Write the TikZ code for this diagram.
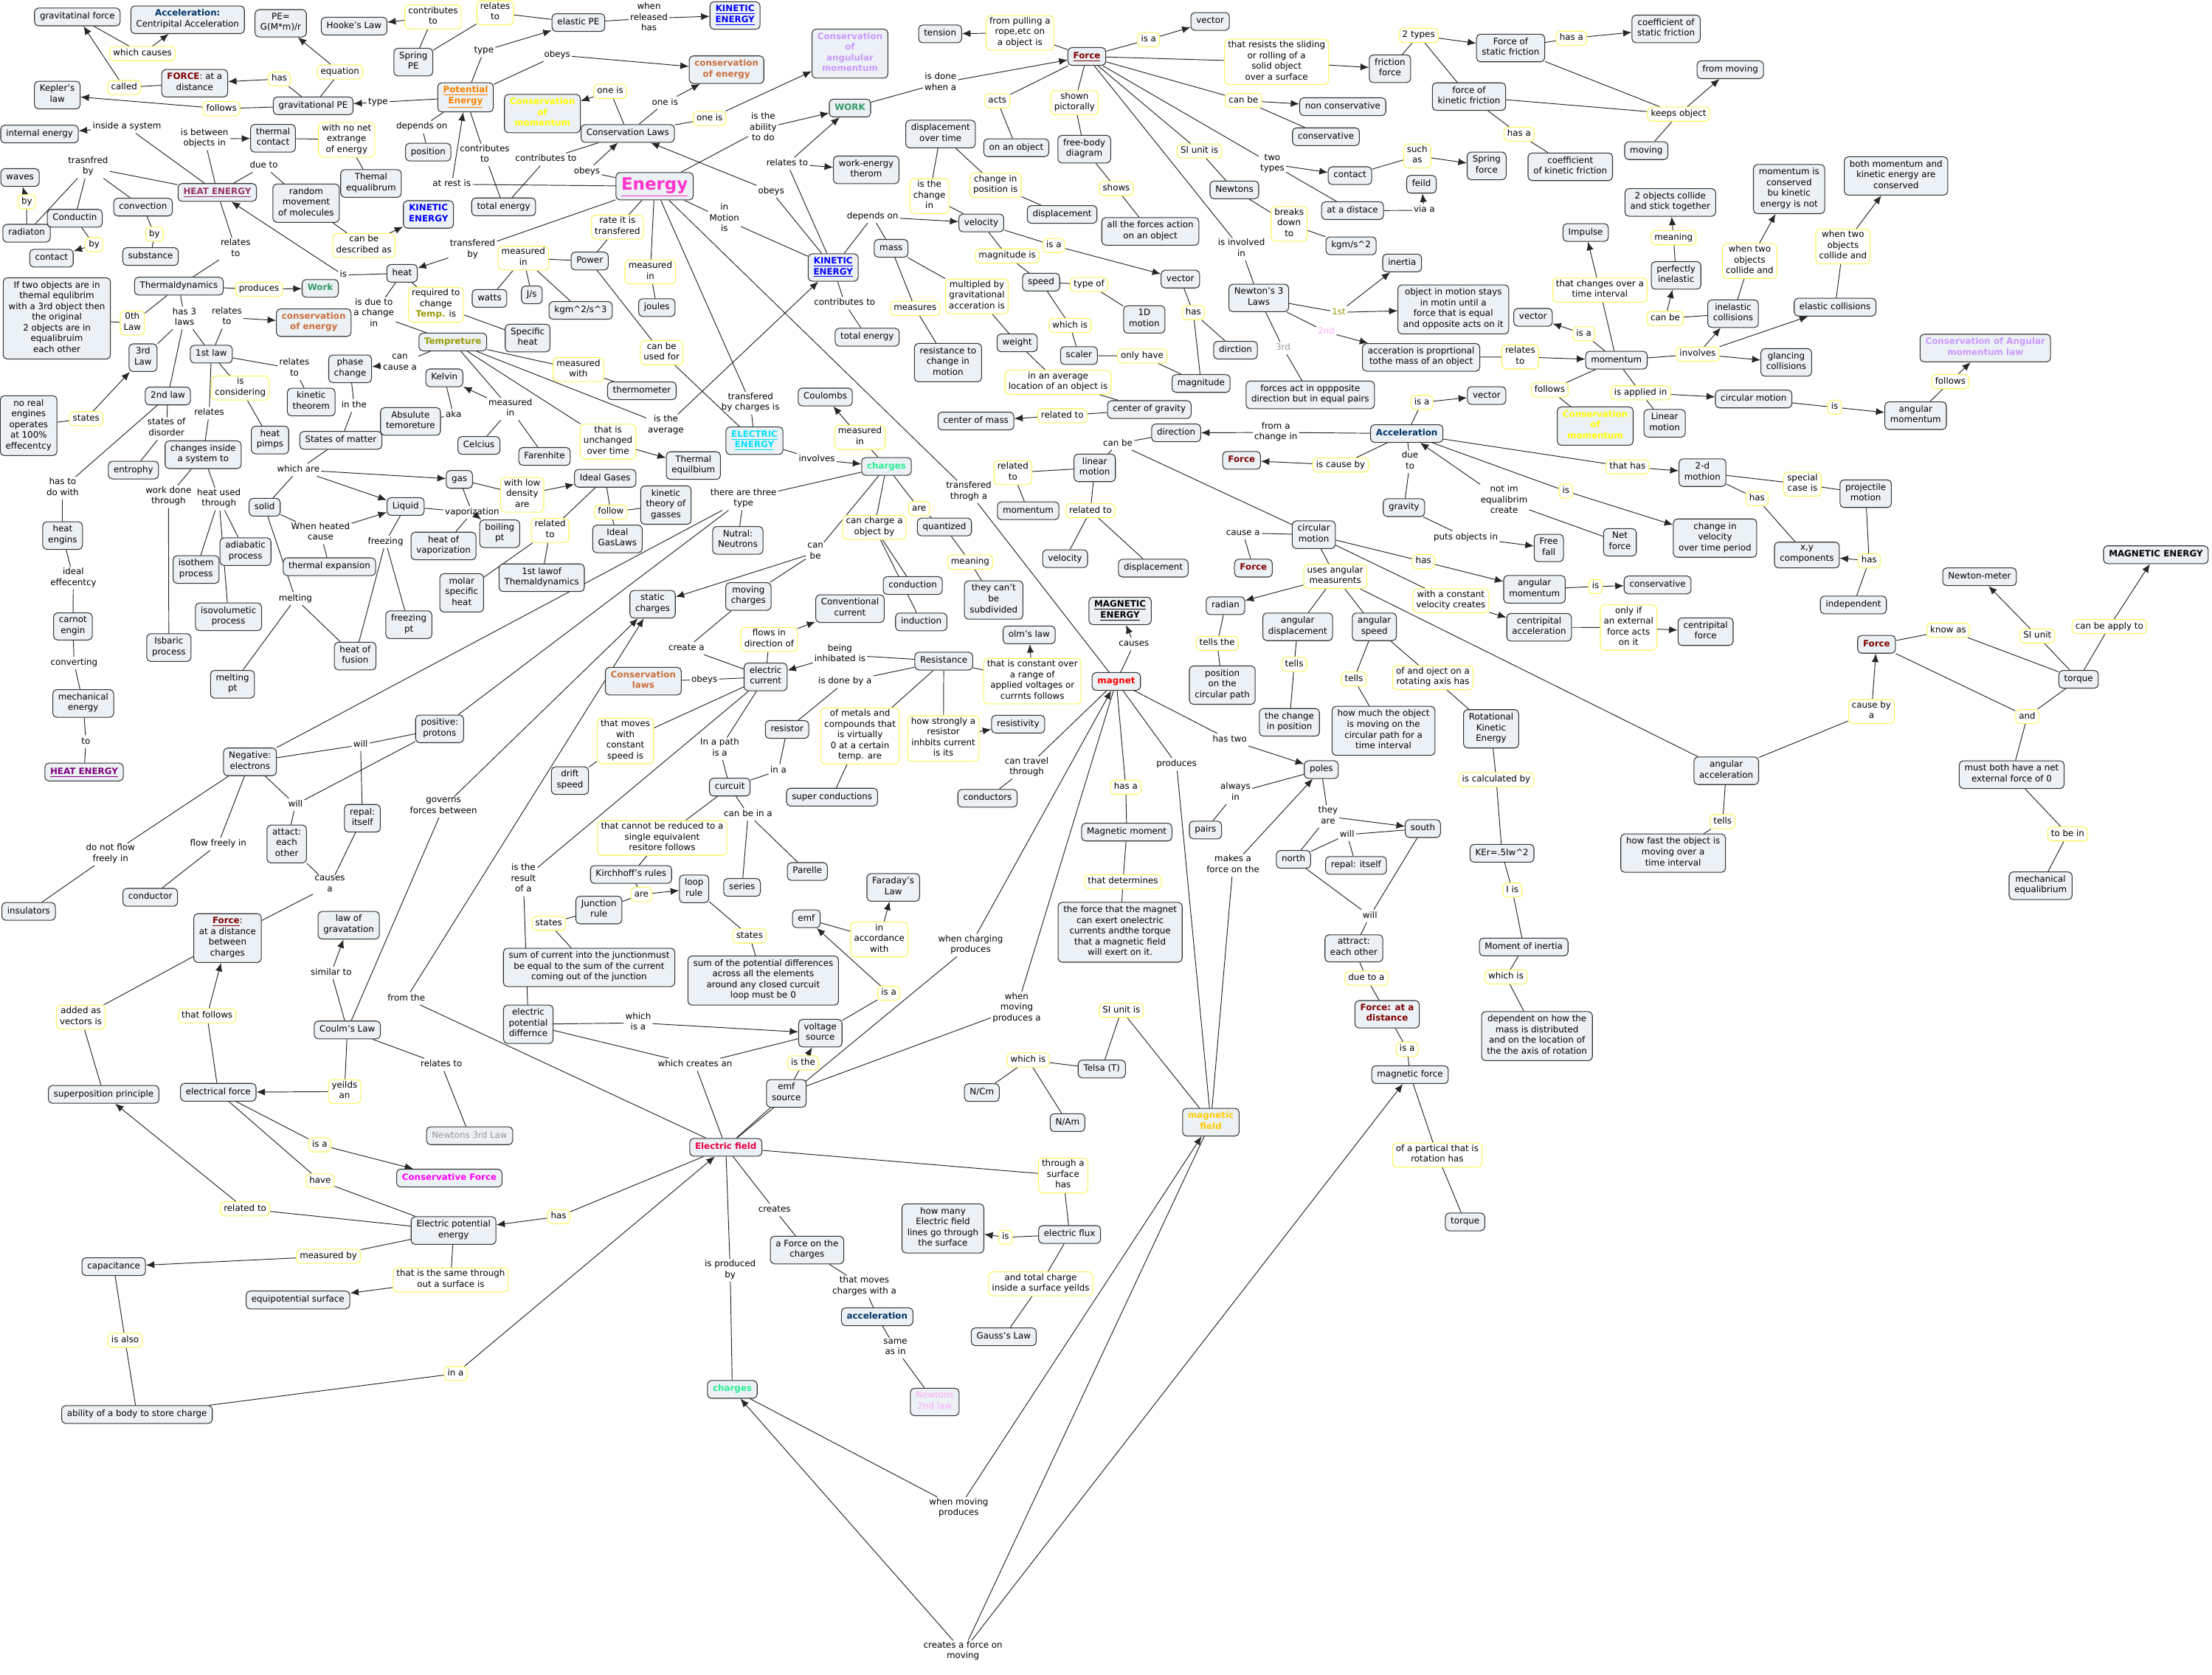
\documentclass[tikz,border=0pt]{standalone}
\usepackage{fontspec}
\setmainfont{DejaVu Sans}
\usetikzlibrary{arrows.meta}
\pgfdeclarelayer{background}
\pgfsetlayers{background,main}
\definecolor{cfill}{RGB}{235,241,244}
\definecolor{lyel}{RGB}{250,246,90}
\definecolor{dred}{RGB}{128,0,0}
\definecolor{hpurp}{RGB}{153,51,102}
\definecolor{purp}{RGB}{128,0,128}
\definecolor{kblue}{RGB}{0,0,255}
\definecolor{emag}{RGB}{255,51,204}
\definecolor{orng}{RGB}{255,128,0}
\definecolor{orng2}{RGB}{204,110,60}
\definecolor{cyel}{RGB}{255,255,0}
\definecolor{lpurp}{RGB}{204,153,255}
\definecolor{wgreen}{RGB}{51,153,102}
\definecolor{ecyan}{RGB}{0,225,255}
\definecolor{cgreen}{RGB}{40,240,150}
\definecolor{olv}{RGB}{153,153,0}
\definecolor{nvy}{RGB}{0,51,102}
\definecolor{mred}{RGB}{255,0,0}
\definecolor{gld}{RGB}{255,204,0}
\definecolor{crim}{RGB}{235,0,70}
\definecolor{mgnt}{RGB}{255,0,255}
\definecolor{gry}{RGB}{150,150,150}
\definecolor{pnk}{RGB}{255,170,255}
\tikzset{
 cbase/.style={font=\fontsize{6.2}{7.6}\selectfont, align=center, execute at begin node=\strut, execute at end node=\strut},
 cpt/.style={cbase, draw=black!80, fill=cfill, rounded corners=2.8pt, inner xsep=3.8pt, inner ysep=2.5pt, line width=0.55pt},
 lnk/.style={cbase, draw=lyel, fill=white, rounded corners=2.8pt, inner xsep=2.4pt, inner ysep=1.2pt, line width=0.55pt},
 txt/.style={cbase, inner xsep=1pt, inner ysep=0.5pt},
 bf/.style={font=\fontsize{6.2}{7.6}\selectfont\bfseries},
 ln/.style={line width=0.5pt, black!85},
 ar/.style={ln, -{Latex[length=6pt,width=5pt]}},
}
\begin{document}
\begin{tikzpicture}[x=1pt,y=-1pt]
\useasboundingbox (0,0) rectangle (1568,1187);
% ---------- top left ----------
\node[cpt] (gravF) at (54.8,12) {gravitatinal force};
\node[cpt] (accC) at (133,14) {\textcolor{nvy}{\textbf{Acceleration:}}\\Centripital Acceleration};
\node[cpt] (peEq) at (199,16.5) {PE=\\G(M*m)/r};
\node[cpt] (hooke) at (251,18.5) {Hooke's Law};
\node[lnk] (contrib1) at (307,12) {contributes\\to};
\node[lnk] (relto1) at (351,9) {relates\\to};
\node[cpt] (elasticPE) at (410,16) {elastic PE};
\node[txt] (whenRel) at (460,13) {when\\released\\has};
\node[cpt,bf,text=kblue] (KE1) at (521,11) {\underline{KINETIC}\\\underline{ENERGY}};
\node[lnk] (whichCauses) at (101,38) {which causes};
\node[lnk] (called) at (88,62) {called};
\node[cpt] (forceDist) at (138,59) {\textcolor{dred}{\textbf{FORCE}}: at a\\distance};
\node[lnk] (has1) at (198,56) {has};
\node[lnk] (equation) at (241,51) {equation};
\node[cpt] (springPE) at (293,44) {Spring\\PE};
\node[txt] (type1) at (343,36) {type};
\node[txt] (obeys1) at (395,39) {obeys};
\node[cpt] (keplers) at (40.6,67.4) {Kepler's\\law};
\node[lnk] (follows1) at (157,77) {follows};
\node[cpt] (gravPE) at (222,75) {gravitational PE};
\node[txt] (type2) at (268,72.5) {type};
\node[cpt,bf,text=orng] (potE) at (330,69) {\underline{Potential}\\\underline{Energy}};
\node[cpt,bf,text=cyel] (consMom1) at (384.5,80.5) {Conservation\\of\\momentum};
\node[cpt,bf,text=orng2] (conservE1) at (515,49.4) {conservation\\of energy};
\node[cpt,bf,text=lpurp] (consAngMom) at (602.5,38) {Conservation\\of\\angulular\\momentum};
\node[lnk] (oneIs1) at (432.6,64.7) {one is};
\node[txt] (oneIs2) at (471.4,72.8) {one is};
\node[lnk] (oneIs3) at (503,84) {one is};
\node[cpt] (consLaws) at (445,94.6) {Conservation Laws};
\node[txt] (isAbility) at (541,91) {is the\\ability\\to do};
\node[cpt,bf,text=wgreen] (work) at (602.5,76.6) {WORK};
\node[txt] (isDoneWhen) at (666.7,58.8) {is done\\when a};
\node[cpt] (tension) at (666.4,24) {tension};
\node[lnk] (fromPulling) at (723,23.3) {from pulling a\\rope,etc on\\a object is};
\node[cpt,bf,text=dred] (force1) at (770.4,40) {\underline{Force}};
\node[lnk] (isA1) at (814.2,28.1) {is a};
\node[cpt] (vector1) at (857.8,15.2) {vector};
\node[lnk] (resists) at (904.9,43.9) {that resists the sliding\\or rolling of a\\solid object\\over a surface};
\node[cpt] (friction) at (985.3,48.7) {friction\\force};
\node[lnk] (twoTypes) at (1005.6,25.1) {2 types};
\node[cpt] (staticF) at (1070.8,34) {Force of\\static friction};
\node[lnk] (hasA1) at (1113.9,27.1) {has a};
\node[cpt] (coefStatic) at (1181,20.5) {coefficient of\\static friction};
\node[cpt] (fromMoving) at (1226.5,49.4) {from moving};
\node[lnk] (keepsObj) at (1189.9,80.9) {keeps object};
\node[cpt] (moving) at (1167,106.8) {moving};
\node[cpt] (kineticF) at (1041.3,68.5) {force of\\kinetic friction};
\node[lnk] (canBe1) at (881.4,71.2) {can be};
\node[cpt] (nonCons) at (951.8,75.6) {non conservative};
\node[cpt] (conservative1) at (939.9,96.9) {conservative};
\node[lnk] (hasA2) at (1076.8,95.1) {has a};
\node[cpt] (coefKin) at (1113.1,118.2) {coefficient\\of kinetic friction};
\node[lnk] (acts) at (707,71.5) {acts};
\node[cpt] (onObject) at (720.4,104.7) {on an object};
\node[lnk] (shownPic) at (761.7,72.8) {shown\\pictorally};
\node[cpt] (fbd) at (768.6,105.7) {free-body\\diagram};
\node[cpt] (displOT) at (666.7,95) {displacement\\over time};
\node[cpt] (workEnergy) at (614,120.4) {work-energy\\therom};
\node[txt] (relatesTo1) at (558,116) {relates to};
\node[txt] (obeys2) at (546.7,135.6) {obeys};
\node[cpt] (internalE) at (28,95) {internal energy};
\node[txt] (insideSys) at (90,90) {inside a system};
\node[txt] (isBetween) at (145,98.4) {is between\\objects in};
\node[cpt] (thermalContact) at (193.5,98) {thermal\\contact};
\node[lnk] (noNet) at (245.7,99) {with no net\\extrange\\of energy};
\node[txt] (dependsOn1) at (299,90) {depends on};
\node[cpt] (position1) at (303.5,107.8) {position};
\node[txt] (contributesTo2) at (343.6,109.8) {contributes\\to};
\node[txt] (contributesTo3) at (387,113) {contributes to};
\node[txt] (obeys3) at (416,121.5) {obeys};
\node[txt] (atRestIs) at (320.2,130.6) {at rest is};
\node[cpt] (totalE1) at (357,146.6) {total energy};
\node[cpt,font=\fontsize{12}{14}\selectfont\bfseries,text=emag] (energy) at (464,132) {\underline{Energy}};
\node[cpt,bf,text=hpurp] (heatEnergy) at (154,136.4) {\underline{HEAT ENERGY}};
\node[txt] (trasnfredBy) at (62.4,118.4) {trasnfred\\by};
\node[cpt] (waves) at (14.2,125.8) {waves};
\node[lnk] (by1) at (19,143) {by};
\node[cpt] (radiaton) at (18.8,165.3) {radiaton};
\node[cpt] (conductin) at (53,154.7) {Conductin};
\node[cpt] (convection) at (101.4,146.8) {convection};
\node[lnk] (by2) at (109.5,166) {by};
\node[cpt] (substance) at (106.7,181.8) {substance};
\node[lnk] (by3) at (66.7,173.4) {by};
\node[cpt] (contact1) at (36.5,183) {contact};
\node[txt] (dueTo) at (187,117.6) {due to};
\node[cpt] (randomMov) at (217,144) {random\\movement\\of molecules};
\node[cpt] (thermalEq) at (263,130) {Themal\\equalibrum};
\node[cpt,bf,text=kblue] (KE2) at (303.7,152) {KINETIC\\ENERGY};
\node[lnk] (canBeDesc) at (258,174) {can be\\described as};
\node[txt] (transferedBy) at (335,177) {transfered\\by};
\node[lnk] (measuredIn1) at (371,183) {measured\\in};
\node[lnk] (rateIs) at (437.7,161) {rate it is\\transfered};
\node[cpt] (power) at (418,185) {Power};
\node[cpt] (watts) at (347,211.5) {watts};
\node[cpt] (js) at (377,209) {J/s};
\node[cpt] (kgm3) at (411.6,220) {kgm\textasciicircum 2/s\textasciicircum 3};
\node[lnk] (measuredIn2) at (461,192.7) {measured\\in};
\node[cpt] (joules) at (465.6,218) {joules};
\node[txt] (inMotion) at (513.5,155.4) {in\\Motion\\is};
\node[cpt,bf,text=kblue] (KE3) at (590.6,189.6) {\underline{KINETIC}\\\underline{ENERGY}};
\node[txt] (relatesTo2) at (167,176.5) {relates\\to};
\node[txt] (is1) at (243.4,195) {is};
\node[cpt] (heat) at (285,193.7) {heat};
\node[cpt] (thermaldyn) at (126.8,202.8) {Thermaldynamics};
\node[lnk] (produces) at (183.6,205) {produces};
\node[cpt,bf,text=wgreen] (work2) at (227,204.4) {Work};
\node[cpt] (ifTwo) at (40.3,225.7) {If two objects are in\\themal equlibrim\\with a 3rd object then\\the original\\2 objects are in\\equalibruim\\each other};
\node[lnk] (zeroLaw) at (93.8,229) {0th\\Law};
\node[txt] (has3laws) at (130.8,225.4) {has 3\\laws};
\node[txt] (relatesTo3) at (160.8,225) {relates\\to};
\node[cpt,bf,text=orng2] (consE2) at (222.4,228.7) {conservation\\of energy};
\node[txt] (isDueTo) at (265,222.6) {is due to\\a change\\in};
\node[lnk] (requiredTo) at (309,216) {required to\\change\\\textcolor{olv}{\textbf{Temp.}} is};
\node[cpt] (specHeat) at (374,239.6) {Specific\\heat};
\node[cpt] (thirdLaw) at (101.4,253.5) {3rd\\Law};
\node[cpt] (firstLaw) at (149.8,251) {1st law};
\node[cpt,bf,text=olv] (tempreture) at (321,242.4) {Tempreture};
\node[txt] (relatesTo4) at (208.7,261.4) {relates\\to};
\node[cpt] (phaseChange) at (248.2,261.4) {phase\\change};
\node[txt] (canCauseA) at (283.5,257.9) {can\\cause a};
\node[cpt] (kelvin) at (315,267.8) {Kelvin};
\node[lnk] (measuredWith) at (410,262) {measured\\with};
\node[cpt] (thermometer) at (455,277) {thermometer};
\node[lnk] (canBeUsed) at (469,250) {can be\\used for};
\node[lnk] (isConsidering) at (170.4,275) {is\\considering};
\node[cpt] (kineticThm) at (220.6,285) {kinetic\\theorem};
\node[txt] (inThe) at (251,287.5) {in the};
\node[cpt] (absolute) at (291,298.7) {Absulute\\temoreture};
\node[txt] (aka) at (321.5,294.4) {aka};
\node[txt] (measuredIn3) at (361.8,289.8) {measured\\in};
\node[cpt] (celcius) at (339.5,315.7) {Celcius};
\node[cpt] (farenhite) at (386,323.5) {Farenhite};
\node[cpt] (secondLaw) at (119,280.7) {2nd law};
\node[txt] (statesOfDisorder) at (118,303.8) {states of\\disorder};
\node[txt] (relates5) at (148.3,292.8) {relates};
\node[cpt] (heatPimps) at (191.4,311.9) {heat\\pimps};
\node[cpt] (statesMatter) at (241.6,312.1) {States of matter};
\node[cpt] (noRealEng) at (20.3,301.7) {no real\\engines\\operates\\at 100\%\\effecentcy};
\node[lnk] (states1) at (61.1,296.7) {states};
\node[cpt] (entrophy) at (94.6,333.2) {entrophy};
\node[cpt] (changesInside) at (144,322.3) {changes inside\\a system to};
\node[txt] (whichAre) at (211.5,333) {which are};
\node[cpt] (gas) at (325.6,339.8) {gas};
\node[lnk] (withLowDensity) at (370.2,350.7) {with low\\density\\are};
\node[cpt] (idealGases) at (429,339) {Ideal Gases};
\node[cpt] (thermalEquil) at (491.5,330) {Thermal\\equilbium};
\node[lnk] (unchanged) at (431,313) {that is\\unchanged\\over time};
\node[txt] (isAverage) at (472,301.7) {is the\\average};
\node[cpt,bf,text=ecyan] (electricE) at (534.8,312.4) {\underline{ELECTRIC}\\\underline{ENERGY}};
\node[txt] (transferedByCharges) at (532,285.7) {transfered\\by charges is};
\node[cpt] (coulombs) at (585,281.4) {Coulombs};
\node[lnk] (measuredIn4) at (609.6,310) {measured\\in};
\node[txt] (involves) at (579,325.8) {involves};
\node[cpt,bf,text=cgreen] (charges1) at (628.4,330.6) {charges};
\node[txt] (transferedThrough) at (686.7,348.6) {transfered\\throgh a};
\node[lnk] (relatedTo1) at (718,335) {related\\to};
\node[cpt] (linearMotion) at (776,331.6) {linear\\motion};
\node[cpt] (momentum1) at (728.8,362) {momentum};
\node[lnk] (relatedTo2) at (773,362) {related to};
\node[cpt] (velocity2) at (755,396) {velocity};
\node[cpt] (displacement3) at (817.5,402.7) {displacement};
\node[txt] (workDoneThrough) at (119.4,352) {work done\\through};
\node[txt] (heatUsedThrough) at (155.2,353.7) {heat used\\through};
\node[cpt] (solid) at (187.6,359.5) {solid};
\node[cpt] (liquid) at (287.5,359) {Liquid};
\node[txt] (vaporization) at (334.7,363.3) {vaporization};
\node[cpt] (boiling) at (354.2,378.3) {boiling\\pt};
\node[cpt] (heatVap) at (314.4,387) {heat of\\vaporization};
\node[lnk] (relatedTo3) at (390,376) {related\\to};
\node[cpt] (idealGasLaws) at (437.7,382) {Ideal\\GasLaws};
\node[lnk] (follow) at (433,363) {follow};
\node[cpt] (kineticTheory) at (472,358) {kinetic\\theory of\\gasses};
\node[txt] (thereAreThree) at (527,353.7) {there are three\\type};
\node[cpt] (nutral) at (523,383) {Nutral:\\Neutrons};
\node[txt] (whenHeated) at (227.2,377.8) {When heated\\cause};
\node[txt] (freezing) at (273.3,384) {freezing};
\node[txt] (hasToDoWith) at (44.4,346) {has to\\do with};
\node[cpt] (heatEngins) at (44.4,379.6) {heat\\engins};
\node[cpt] (isothem) at (139,403.7) {isothem\\process};
\node[cpt] (adiabatic) at (174,391) {adiabatic\\process};
\node[cpt] (thermalExp) at (233.5,401.7) {thermal expansion};
\node[cpt] (molarSpec) at (327.3,420.2) {molar\\specific\\heat};
\node[cpt] (firstLawThermo) at (384,409.5) {1st lawof\\Themaldynamics};
\node[cpt] (isovolumetric) at (162,437.2) {isovolumetic\\process};
\node[txt] (melting) at (209.4,424.3) {melting};
\node[cpt] (freezingPt) at (289.8,442.8) {freezing\\pt};
\node[cpt] (heatFusion) at (251.8,465) {heat of\\fusion};
\node[cpt] (isobaric) at (119.7,459) {Isbaric\\process};
\node[cpt] (meltingPt) at (164.8,485) {melting\\pt};
\node[txt] (idealEff) at (52,409.8) {ideal\\effecentcy};
\node[cpt] (carnot) at (51.7,444) {carnot\\engin};
\node[txt] (converting) at (52.5,470) {converting};
\node[cpt] (mechEnergy) at (59,498.6) {mechanical\\energy};
\node[txt] (to1) at (60.9,525.7) {to};
\node[cpt,bf,text=purp] (heatEnergy2) at (59.6,547.2) {\underline{HEAT ENERGY}};
% ---------- middle ----------
\node[cpt] (staticCharges) at (462.6,428.3) {static\\charges};
\node[cpt] (movingCharges) at (530.5,422.8) {moving\\charges};
\node[txt] (canBe2) at (578,391.7) {can\\be};
\node[lnk] (canChargeBy) at (619.8,373.8) {can charge a\\object by};
\node[lnk] (are1) at (651.5,360.5) {are};
\node[cpt] (quantized) at (669.5,373.5) {quantized};
\node[lnk] (meaning) at (687.7,398.4) {meaning};
\node[cpt] (subdivided) at (704.4,425.3) {they can't\\be\\subdivided};
\node[cpt] (conduction) at (647,415) {conduction};
\node[cpt] (induction) at (653,440.8) {induction};
\node[cpt] (conventional) at (602.5,431.4) {Conventional\\current};
\node[lnk] (flowsIn) at (545.2,453.2) {flows in\\direction of};
\node[txt] (beingInhibited) at (595.4,464) {being\\inhibated is};
\node[cpt] (resistance) at (669,468.6) {Resistance};
\node[cpt] (olms) at (729.5,450) {olm's law};
\node[lnk] (constantOver) at (731.8,482.8) {that is constant over\\a range of\\applied voltages or\\currnts follows};
\node[txt] (createA) at (486.6,459.5) {create a};
\node[cpt,bf,text=orng2] (consLaws2) at (456,482.8) {Conservation\\laws};
\node[txt] (obeys4) at (499.3,481.8) {obeys};
\node[cpt] (electricCurrent) at (542.7,479.8) {electric\\current};
\node[txt] (isDoneBy) at (599,483.3) {is done by a};
\node[cpt,bf] (magEnergy2) at (794,433) {\underline{MAGNETIC}\\\underline{ENERGY}};
\node[txt] (causes1) at (803.8,456.5) {causes};
\node[cpt,bf,text=mred] (magnet) at (791.3,483) {magnet};
\node[lnk] (thatMoves) at (443.3,525.2) {that moves\\with\\constant\\speed is};
\node[cpt] (driftSpeed) at (404,553.3) {drift\\speed};
\node[cpt] (resistor) at (557.9,517) {resistor};
\node[lnk] (metals) at (609.6,521.6) {of metals and\\compounds that\\is virtually\\0 at a certain\\temp. are};
\node[lnk] (howStrongly) at (668.7,523.4) {how strongly a\\resistor\\inhbits current\\is its};
\node[cpt] (resistivity) at (721.7,513.3) {resistivity};
\node[txt] (canTravel) at (727.8,544) {can travel\\through};
\node[cpt] (conductors) at (700,565.8) {conductors};
\node[txt] (inAPath) at (510.2,530.8) {In a path\\is a};
\node[txt] (inA) at (551.8,546.2) {in a};
\node[cpt] (curcuit) at (517.3,557.9) {curcuit};
\node[cpt] (superCond) at (589.8,565) {super conductions};
\node[txt] (canBeInA) at (530.3,577.2) {can be in a};
\node[lnk] (cannotReduce) at (469.4,594) {that cannot be reduced to a\\single equivalent\\resitore follows};
\node[cpt] (kirchhoff) at (447.3,619.8) {Kirchhoff's rules};
\node[cpt] (parelle) at (572.3,617.7) {Parelle};
\node[cpt] (series) at (526,629) {series};
\node[lnk] (are2) at (454.7,634) {are};
\node[cpt] (loopRule) at (492,630) {loop\\rule};
\node[cpt] (junction) at (424.5,645) {Junction\\rule};
\node[cpt] (faraday) at (633.2,629) {Faraday's\\Law};
\node[cpt] (emf) at (571.6,651.2) {emf};
\node[lnk] (inAccordance) at (623.3,665.9) {in\\accordance\\with};
\node[lnk] (states2) at (389,654.5) {states};
\node[lnk] (states3) at (531.3,663.4) {states};
\node[cpt] (sumCurrent) at (417.6,685.7) {sum of current into the junctionmust\\be equal to the sum of the current\\coming out of the junction};
\node[cpt] (sumPotential) at (541,695) {sum of the potential differences\\across all the elements\\around any closed curcuit\\loop must be 0};
\node[txt] (isTheResult) at (371,623.3) {is the\\result\\of a};
\node[txt] (governs) at (314.4,572) {governs\\forces between};
\node[cpt] (positive) at (311.6,516.6) {positive:\\protons};
\node[txt] (will1) at (255.6,528) {will};
\node[cpt] (negative) at (177.2,540) {Negative:\\electrons};
\node[txt] (will2) at (209.4,570.3) {will};
\node[cpt] (repal1) at (256.9,580) {repal:\\itself};
\node[cpt] (attract1) at (203.3,598.2) {attact:\\each\\other};
\node[txt] (causesA) at (233.8,627.6) {causes\\a};
\node[txt] (doNotFlow) at (78.3,605.6) {do not flow\\freely in};
\node[txt] (flowFreely) at (154.7,598.2) {flow freely in};
\node[cpt] (conductor) at (106.5,636) {conductor};
\node[cpt] (insulators) at (20.3,646) {insulators};
\node[cpt] (forceDistCharges) at (161.3,664.9) {\textcolor{dred}{\textbf{\underline{Force}}}:\\at a distance\\between\\charges};
\node[cpt] (lawGrav) at (247.2,655.8) {law of\\gravatation};
\node[txt] (similarTo) at (234.8,689.5) {similar to};
\node[cpt] (coulmsLaw) at (246.2,730) {Coulm's Law};
\node[txt] (fromThe) at (288,707.7) {from the};
\node[lnk] (addedAs) at (57.3,721) {added as\\vectors is};
\node[lnk] (thatFollows) at (146.8,720) {that follows};
\node[txt] (relatesTo6) at (312.9,754.6) {relates to};
\node[lnk] (yeilds) at (244.2,773.7) {yeilds\\an};
\node[cpt] (electricalForce) at (154.7,774.2) {electrical force};
\node[cpt] (superposition) at (73.5,775.7) {superposition principle};
\node[cpt,text=gry] (newtons3rd) at (332.9,805) {Newtons 3rd Law};
\node[lnk] (isA2) at (226.7,811.4) {is a};
\node[cpt,bf,text=mgnt] (conservForce) at (318.5,835) {Conservative Force};
\node[lnk] (have) at (226.9,837) {have};
\node[lnk] (relatedTo5) at (173.7,856.8) {related to};
\node[cpt] (elecPotE) at (321.5,872.2) {Electric potential\\energy};
\node[lnk] (has2) at (396,862.3) {has};
\node[lnk] (measuredBy) at (232.8,890.5) {measured by};
\node[cpt] (capacitance) at (80.6,897.8) {capacitance};
\node[lnk] (thatIsSame) at (319.5,907.2) {that is the same through\\out a surface is};
\node[cpt] (equipotential) at (211.2,921.4) {equipotential surface};
\node[lnk] (isAlso) at (88.7,950) {is also};
\node[lnk] (inA2) at (323,973.6) {in a};
\node[cpt] (abilityStore) at (97.1,1002.6) {ability of a body to store charge};
\node[cpt] (electricPotDiff) at (374.5,726) {electric\\potential\\differnce};
\node[txt] (whichIsA) at (452.4,725) {which\\is a};
\node[cpt] (voltageSource) at (581.5,732.3) {voltage\\source};
\node[lnk] (isA3) at (630,704) {is a};
\node[txt] (whichCreates) at (492.7,754.6) {which creates an};
\node[lnk] (isThe) at (569.3,753.4) {is the};
\node[cpt] (emfSource) at (557.4,775) {emf\\source};
\node[cpt,bf,text=crim] (electricField) at (514.5,813.2) {Electric field};
\node[txt] (whenCharging) at (688,670) {when charging\\produces};
\node[txt] (whenMovingProducesA) at (720.7,714.6) {when\\moving\\produces a};
\node[lnk] (siUnit2) at (794.9,716.1) {SI unit is};
\node[lnk] (whichIs3) at (728.8,751.3) {which is};
\node[cpt] (telsa) at (781,757.7) {Telsa (T)};
\node[cpt] (nCm) at (696,774.4) {N/Cm};
\node[cpt] (nAm) at (756.7,795.7) {N/Am};
\node[cpt,bf,text=gld] (magneticField) at (858.3,795.4) {magnetic\\field};
\node[txt] (creates) at (549,857.5) {creates};
\node[cpt] (forceOnCharges) at (572.1,886) {a Force on the\\charges};
\node[txt] (isProduced) at (517.6,900.4) {is produced\\by};
\node[txt] (thatMovesCharges) at (612.7,912) {that moves\\charges with a};
\node[cpt,bf,text=nvy] (acceleration2) at (621.8,933.3) {acceleration};
\node[txt] (sameAs) at (634.7,955.6) {same\\as in};
\node[cpt,text=pnk] (newtons2nd) at (662.6,993.7) {Newtons\\2nd law};
\node[cpt,bf,text=cgreen] (charges2) at (519.1,984.8) {charges};
\node[txt] (whenMovingProduces) at (679.6,1069) {when moving\\produces};
\node[txt] (createsForce) at (682.6,1170.7) {creates a force on\\moving};
\node[lnk] (throughSurface) at (753.6,833.2) {through a\\surface\\has};
\node[cpt] (howMany) at (668.4,870.7) {how many\\Electric field\\lines go through\\the surface};
\node[lnk] (is3) at (712.8,877) {is};
\node[cpt] (electricFlux) at (758.2,875) {electric flux};
\node[lnk] (totalCharge) at (737.7,910) {and total charge\\inside a surface yeilds};
\node[cpt] (gauss) at (711.5,947.5) {Gauss's Law};
% ---------- right middle ----------
\node[txt] (dependsOn2) at (618.5,153.6) {depends on};
\node[cpt] (mass) at (631.7,176) {mass};
\node[cpt] (velocity1) at (695.6,158) {velocity};
\node[lnk] (isTheChange) at (658.8,139) {is the\\change\\in};
\node[lnk] (changeInPos) at (705.7,131.3) {change in\\position is};
\node[cpt] (displacement1) at (752.9,152) {displacement};
\node[lnk] (shows) at (791.3,133.6) {shows};
\node[cpt] (allForces) at (815.4,164) {all the forces action\\on an object};
\node[lnk] (siUnitIs) at (850.2,107) {SI unit is};
\node[cpt] (newtons) at (875,134.6) {Newtons};
\node[lnk] (breaksDown) at (913.8,158.7) {breaks\\down\\to};
\node[cpt] (kgms2) at (957.7,174.2) {kgm/s\textasciicircum 2};
\node[txt] (twoTypes2) at (901.9,116.4) {two\\types};
\node[cpt] (contact2) at (956.9,124.5) {contact};
\node[cpt] (atDistance) at (958.7,149.3) {at a distace};
\node[lnk] (suchAs) at (1004.6,110.5) {such\\as};
\node[cpt] (springForce) at (1053.8,117.6) {Spring\\force};
\node[cpt] (feild) at (1007.6,130.6) {feild};
\node[txt] (viaA) at (1009.6,149.1) {via a};
\node[lnk] (isA4) at (747,174) {is a};
\node[cpt] (vector2) at (836.7,197.8) {vector};
\node[lnk] (magnitudeIs) at (714,181.5) {magnitude is};
\node[cpt] (speed) at (738,200) {speed};
\node[lnk] (typeOf) at (772,201.6) {type of};
\node[cpt] (oneDMotion) at (811.1,226.4) {1D\\motion};
\node[lnk] (has4) at (845.9,221.6) {has};
\node[cpt] (dirction) at (875.8,248.2) {dirction};
\node[lnk] (multipliedBy) at (692.5,210) {multipled by\\gravitational\\acceration is};
\node[cpt] (weight) at (721,243) {weight};
\node[lnk] (measures) at (648.7,218.6) {measures};
\node[cpt] (resistChange) at (672,257) {resistance to\\change in\\motion};
\node[lnk] (whichIs1) at (758.5,230.7) {which is};
\node[cpt] (scaler) at (764.8,252) {scaler};
\node[lnk] (onlyHave) at (809.6,252.3) {only have};
\node[cpt] (magnitude) at (851.4,271.8) {magnitude};
\node[lnk] (inAverage) at (750,271) {in an average\\location of an object is};
\node[cpt] (centerGravity) at (814.7,290.3) {center of gravity};
\node[lnk] (relatedTo4) at (753,294.6) {related to};
\node[cpt] (centerMass) at (691.8,298.4) {center of mass};
\node[txt] (contributesTo4) at (598.7,215) {contributes to};
\node[cpt] (totalE2) at (614.7,239) {total energy};
\node[txt] (isInvolved) at (880,176.7) {is involved\\in};
\node[cpt] (newton3laws) at (892.3,211.2) {Newton's 3\\Laws};
\node[txt,text=olv] (first) at (949,221.4) {1st};
\node[cpt] (inertia) at (993.9,186.4) {inertia};
\node[cpt] (objectMotion) at (1030.2,219.3) {object in motion stays\\in motin until a\\force that is equal\\and opposite acts on it};
\node[txt,text=pnk] (second) at (940.2,235.3) {2nd};
\node[txt,text=gry] (third) at (909.5,246.7) {3rd};
\node[cpt] (accProp) at (1007.4,253.3) {acceration is proprtional\\tothe mass of an object};
\node[lnk] (relatesTo7) at (1077.6,253) {relates\\to};
\node[cpt] (momentum2) at (1145.8,255.3) {momentum};
\node[cpt] (forcesAct) at (928.8,279.9) {forces act in oppposite\\direction but in equal pairs};
\node[lnk] (isA5) at (1007.9,285.2) {is a};
\node[cpt] (vector3) at (1053.8,280.4) {vector};
\node[cpt] (direction) at (833.7,306.8) {direction};
\node[txt] (canBe3) at (792.4,314.4) {can be};
\node[txt] (fromChange) at (904.4,306.5) {from a\\change in};
\node[cpt,bf,text=nvy] (acceleration1) at (997.2,307.3) {Acceleration};
\node[cpt,bf,text=dred] (force2) at (880.1,326.3) {Force};
\node[lnk] (isCauseBy) at (950.3,329.6) {is cause by};
\node[txt] (dueTo2) at (999.5,327.3) {due\\to};
\node[cpt] (gravity) at (995.2,359.8) {gravity};
\node[txt] (notIm) at (1066.2,355) {not im\\equalibrim\\create};
\node[txt] (putsObjects) at (1039,380.8) {puts objects in};
\node[cpt] (freeFall) at (1097.9,388.4) {Free\\fall};
\node[cpt] (netForce) at (1148.3,384.4) {Net\\force};
\node[lnk] (thatHas) at (1153.7,330.9) {that has};
\node[lnk] (is4) at (1110,348.1) {is};
\node[cpt] (twoD) at (1206.8,335) {2-d\\mothion};
\node[cpt] (changeInVel) at (1215.7,381.4) {change in\\velocity\\over time period};
\node[lnk] (specialCase) at (1277.7,343.2) {special\\case is};
\node[cpt] (projectile) at (1322.5,349.9) {projectile\\motion};
\node[lnk] (has5) at (1245.5,353.5) {has};
\node[cpt] (xyComp) at (1280.8,393.4) {x,y\\components};
\node[lnk] (has6) at (1324.9,397.5) {has};
\node[cpt] (independent) at (1313.8,428.8) {independent};
\node[cpt,bf] (magEnergy1) at (1528.2,393.2) {MAGNETIC ENERGY};
\node[cpt] (impulse) at (1124,164.8) {Impulse};
\node[lnk] (thatChanges) at (1134.1,205.6) {that changes over a\\time interval};
\node[cpt] (vector4) at (1086.7,224.9) {vector};
\node[lnk] (isA6) at (1122.7,236.6) {is a};
\node[lnk] (follows2) at (1098.6,276.4) {follows};
\node[cpt,bf,text=cyel] (consMom2) at (1130.8,302) {Conservation\\of\\momentum};
\node[lnk] (isApplied) at (1163,278.4) {is applied in};
\node[cpt] (linearMotion2) at (1180,300) {Linear\\motion};
\node[cpt] (circularMotion1) at (1243.1,282.8) {circular motion};
\node[lnk] (is5) at (1300.5,288.7) {is};
\node[cpt] (angularMom1) at (1357.9,294.6) {angular\\momentum};
\node[lnk] (follows3) at (1382.5,270.5) {follows};
\node[cpt,bf,text=lpurp] (consAngLaw) at (1407.3,246.7) {Conservation of Angular\\momentum law};
\node[lnk] (involves2) at (1203.4,251) {involves};
\node[cpt] (inelastic) at (1228.5,222.3) {inelastic\\collisions};
\node[cpt] (glancing) at (1266.2,256.9) {glancing\\collisions};
\node[cpt] (elastic) at (1300.8,217.7) {elastic collisions};
\node[lnk] (canBe4) at (1180.4,225.7) {can be};
\node[cpt] (perfectlyInelastic) at (1188.1,195.2) {perfectly\\inelastic};
\node[lnk] (meaning2) at (1186.3,168.5) {meaning};
\node[cpt] (twoObjects) at (1184,143.5) {2 objects collide\\and stick together};
\node[lnk] (whenTwo1) at (1240.3,185) {when two\\objects\\collide and};
\node[cpt] (momConserved) at (1268.2,134) {momentum is\\conserved\\bu kinetic\\energy is not};
\node[lnk] (whenTwo2) at (1306.4,174.7) {when two\\objects\\collide and};
\node[cpt] (bothConserved) at (1344,124.7) {both momentum and\\kinetic energy are\\conserved};
% ---------- lower right ----------
\node[cpt] (circularMotion2) at (931.3,379) {circular\\motion};
\node[txt] (causeA) at (881.1,377.8) {cause a};
\node[cpt,bf,text=dred] (force3) at (888.5,402.7) {Force};
\node[lnk] (usesAngular) at (946.5,408.6) {uses angular\\measurents};
\node[lnk] (has7) at (1009,398) {has};
\node[cpt] (angularMom2) at (1087.7,417.7) {angular\\momentum};
\node[lnk] (is6) at (1131,415.7) {is};
\node[cpt] (conservative2) at (1175,414.6) {conservative};
\node[lnk] (withConstant) at (1028.4,425.8) {with a constant\\velocity creates};
\node[cpt] (centripetalAcc) at (1091,444.6) {centripital\\acceleration};
\node[lnk] (onlyIf) at (1154.4,444.8) {only if\\an external\\force acts\\on it};
\node[cpt] (centripetalForce) at (1209,447.7) {centripital\\force};
\node[cpt] (radian) at (868.7,429.3) {radian};
\node[lnk] (tellsThe) at (862.8,456) {tells the};
\node[cpt] (positionCirc) at (866.4,485.6) {position\\on the\\circular path};
\node[cpt] (angDisp) at (919.9,444.3) {angular\\displacement};
\node[lnk] (tells1) at (917.4,470.9) {tells};
\node[cpt] (changeInPosition) at (914,512) {the change\\in position};
\node[cpt] (angSpeed) at (974.2,444.3) {angular\\speed};
\node[lnk] (tells2) at (959.7,481.3) {tells};
\node[cpt] (howMuch) at (980.7,518) {how much the object\\is moving on the\\circular path for a\\time interval};
\node[lnk] (ofObject) at (1015.7,480.3) {of and oject on a\\rotating axis has};
\node[cpt] (rotKE) at (1057,516.6) {Rotational\\Kinetic\\Energy};
\node[lnk] (isCalculated) at (1060.6,552.6) {is calculated by};
\node[cpt] (keFormula) at (1064.7,604.8) {KEr=.5Iw\textasciicircum 2};
\node[lnk] (Iis) at (1072,630.9) {I is};
\node[cpt] (momentInertia) at (1080.1,671.2) {Moment of inertia};
\node[lnk] (whichIs2) at (1067.5,692.5) {which is};
\node[cpt] (dependent) at (1089.5,734.4) {dependent on how the\\mass is distributed\\and on the location of\\the the axis of rotation};
\node[txt] (hasTwo) at (871.7,524.4) {has two};
\node[txt] (produces2) at (834,541.7) {produces};
\node[lnk] (hasA3) at (798,558) {has a};
\node[cpt] (magMoment) at (798.7,589.8) {Magnetic moment};
\node[lnk] (thatDetermines) at (796,625) {that determines};
\node[cpt] (forceMagnet) at (794,660.8) {the force that the magnet\\can exert onelectric\\currents andthe torque\\that a magnetic field\\will exert on it.};
\node[cpt] (poles) at (936.6,545.5) {poles};
\node[txt] (alwaysIn) at (875.8,562) {always\\in};
\node[cpt] (pairs) at (854.5,588.3) {pairs};
\node[txt] (theyAre) at (941.4,578.7) {they\\are};
\node[cpt] (south) at (1008.6,587.3) {south};
\node[txt] (will3) at (954.9,591.6) {will};
\node[cpt] (north) at (916.9,609.1) {north};
\node[cpt] (repal2) at (961.2,613.4) {repal: itself};
\node[txt] (makesAForce) at (874,613.4) {makes a\\force on the};
\node[txt] (will4) at (971.1,649.2) {will};
\node[cpt] (attract2) at (959.7,672.2) {attract:\\each other};
\node[lnk] (dueToA) at (968.6,693.3) {due to a};
\node[cpt,bf,text=dred] (forceDist2) at (983.3,718.9) {Force: at a\\distance};
\node[lnk] (isA7) at (997.5,743.7) {is a};
\node[cpt] (magForce) at (999.5,761.7) {magnetic force};
\node[lnk] (particle) at (1018.8,818.7) {of a partical that is\\rotation has};
\node[cpt] (torque2) at (1038.5,866.1) {torque};
\node[cpt] (angAcc) at (1223.7,546.3) {angular\\acceleration};
\node[lnk] (tells3) at (1221.1,582.4) {tells};
\node[cpt] (howFast) at (1186,604.7) {how fast the object is\\moving over a\\time interval};
\node[lnk] (causeBy) at (1326.6,504.3) {cause by\\a};
\node[cpt,bf,text=dred] (force4) at (1330.2,456.7) {Force};
\node[lnk] (knowAs) at (1381,446.7) {know as};
\node[lnk] (siUnit3) at (1444.2,450.8) {SI unit};
\node[cpt] (newtonMeter) at (1403.2,408.8) {Newton-meter};
\node[lnk] (canBeApply) at (1495.2,444.1) {can be apply to};
\node[cpt] (torque1) at (1473.4,481.5) {torque};
\node[lnk] (and1) at (1437,507.9) {and};
\node[cpt] (mustBoth) at (1426,549.1) {must both have a net\\external force of 0};
\node[lnk] (toBeIn) at (1465.7,591.1) {to be in};
\node[cpt] (mechEq) at (1446.5,627.8) {mechanical\\equalibrium};
% ---------- connectors ----------
\begin{pgfonlayer}{background}
\fill[white] (0,0) rectangle (1568,1187);
\foreach \a/\b in {gravF/whichCauses, forceDist/called, gravPE/has1, gravPE/equation, gravPE/follows1, potE/type2, potE/type1, springPE/relto1, relto1/elasticPE, springPE/contrib1, elasticPE/whenRel, potE/obeys1, potE/dependsOn1, dependsOn1/position1, energy/atRestIs, potE/contributesTo2, contributesTo2/totalE1, consLaws/contributesTo3, contributesTo3/totalE1, energy/obeys3, consLaws/oneIs1, consLaws/oneIs2, consLaws/oneIs3, energy/isAbility, KE3/relatesTo1, KE3/obeys2, work/isDoneWhen, energy/inMotion, inMotion/KE3, energy/transferedBy, energy/rateIs, rateIs/power, power/measuredIn1, measuredIn1/watts, measuredIn1/js, measuredIn1/kgm3, energy/measuredIn2, measuredIn2/joules, power/canBeUsed, canBeUsed/electricE, energy/transferedByCharges, transferedByCharges/electricE, energy/transferedThrough, transferedThrough/magnet, tempreture/isAverage, tempreture/unchanged, tempreture/measuredWith, measuredWith/thermometer, tempreture/measuredIn3, measuredIn3/celcius, measuredIn3/farenhite, tempreture/canCauseA, phaseChange/inThe, inThe/statesMatter, kelvin/aka, aka/absolute, heat/isDueTo, isDueTo/tempreture, heat/requiredTo, requiredTo/specHeat, heat/is1, heatEnergy/insideSys, heatEnergy/isBetween, thermalContact/noNet, noNet/thermalEq, heatEnergy/dueTo, dueTo/randomMov, randomMov/canBeDesc, heatEnergy/trasnfredBy, trasnfredBy/radiaton, trasnfredBy/conductin, trasnfredBy/convection, radiaton/by1, conductin/by3, convection/by2, by2/substance, heatEnergy/relatesTo2, relatesTo2/thermaldyn, thermaldyn/produces, thermaldyn/zeroLaw, zeroLaw/ifTwo, thermaldyn/has3laws, has3laws/thirdLaw, has3laws/firstLaw, has3laws/secondLaw, firstLaw/relatesTo3, firstLaw/relatesTo4, relatesTo4/kineticThm, firstLaw/isConsidering, isConsidering/heatPimps, firstLaw/relates5, relates5/changesInside, changesInside/workDoneThrough, workDoneThrough/isobaric, changesInside/heatUsedThrough, heatUsedThrough/isothem, heatUsedThrough/adiabatic, heatUsedThrough/isovolumetric, secondLaw/statesOfDisorder, statesOfDisorder/entrophy, secondLaw/hasToDoWith, hasToDoWith/heatEngins, noRealEng/states1, heatEngins/idealEff, idealEff/carnot, carnot/converting, converting/mechEnergy, mechEnergy/to1, to1/heatEnergy2, statesMatter/whichAre, whichAre/solid, solid/whenHeated, whenHeated/thermalExp, liquid/vaporization, gas/vaporization, vaporization/heatVap, liquid/freezing, freezing/heatFusion, freezing/freezingPt, solid/melting, melting/meltingPt, melting/heatFusion, gas/withLowDensity, idealGases/follow, follow/idealGasLaws, follow/kineticTheory, idealGases/relatedTo3, relatedTo3/molarSpec, relatedTo3/firstLawThermo, charges1/thereAreThree, thereAreThree/nutral, thereAreThree/negative, thereAreThree/positive, charges1/canBe2, canBe2/movingCharges, charges1/canChargeBy, canChargeBy/conduction, canChargeBy/induction, charges1/are1, are1/quantized, quantized/meaning, meaning/subdivided, electricE/involves, charges1/measuredIn4, momentum1/relatedTo1, relatedTo1/linearMotion, linearMotion/relatedTo2, relatedTo2/velocity2, relatedTo2/displacement3}
  \draw[ln] (\a) -- (\b);
\foreach \a/\b in {acceleration1/fromChange, acceleration1/isCauseBy, acceleration1/isA5, acceleration1/dueTo2, dueTo2/gravity, gravity/putsObjects, netForce/notIm, acceleration1/thatHas, acceleration1/is4, twoD/specialCase, specialCase/projectile, twoD/has5, has5/xyComp, projectile/has6, has6/independent, linearMotion/canBe3, canBe3/direction, canBe3/circularMotion2, circularMotion2/causeA, causeA/force3, circularMotion2/usesAngular, usesAngular/angDisp, usesAngular/angSpeed, usesAngular/angAcc, circularMotion2/has7, circularMotion2/withConstant, centripetalAcc/onlyIf, angularMom2/is6, radian/tellsThe, tellsThe/positionCirc, angDisp/tells1, tells1/changeInPosition, angSpeed/tells2, tells2/howMuch, angSpeed/ofObject, ofObject/rotKE, rotKE/isCalculated, isCalculated/keFormula, keFormula/Iis, Iis/momentInertia, momentInertia/whichIs2, whichIs2/dependent, angAcc/tells3, tells3/howFast, angAcc/causeBy, force4/knowAs, knowAs/torque1, torque1/siUnit3, torque1/canBeApply, force4/and1, torque1/and1, and1/mustBoth, mustBoth/toBeIn, toBeIn/mechEq, magForce/particle, particle/torque2, electricField/isProduced, isProduced/charges2, electricField/creates, creates/forceOnCharges, forceOnCharges/thatMovesCharges, thatMovesCharges/acceleration2, acceleration2/sameAs, sameAs/newtons2nd, electricField/throughSurface, throughSurface/electricFlux, electricFlux/is3, electricFlux/totalCharge, totalCharge/gauss, electricField/has2, abilityStore/inA2, capacitance/isAlso, isAlso/abilityStore, elecPotE/measuredBy, elecPotE/thatIsSame, elecPotE/relatedTo5, elecPotE/have, have/electricalForce, electricalForce/isA2, coulmsLaw/yeilds, electricalForce/thatFollows, forceDistCharges/addedAs, addedAs/superposition, coulmsLaw/similarTo, coulmsLaw/relatesTo6, relatesTo6/newtons3rd, coulmsLaw/governs, electricField/fromThe, consLaws2/obeys4, obeys4/electricCurrent, electricCurrent/createA, createA/movingCharges, electricCurrent/flowsIn, resistance/beingInhibited, resistance/isDoneBy, isDoneBy/resistor, resistance/metals, metals/superCond, resistance/howStrongly, resistance/constantOver, electricCurrent/thatMoves, thatMoves/driftSpeed, electricCurrent/inAPath, inAPath/curcuit, resistor/inA, inA/curcuit, curcuit/canBeInA, canBeInA/series, canBeInA/parelle, curcuit/cannotReduce, cannotReduce/kirchhoff, kirchhoff/are2, are2/junction, junction/states2, states2/sumCurrent, loopRule/states3, states3/sumPotential, electricCurrent/isTheResult, isTheResult/electricPotDiff, electricPotDiff/whichIsA, electricPotDiff/whichCreates, whichCreates/voltageSource, whichCreates/electricField, voltageSource/isA3, emf/inAccordance, emfSource/isThe, electricField/emfSource, electricField/whenCharging, emfSource/whenMovingProducesA, whenMovingProducesA/magnet, magnet/causes1, magnet/hasTwo, magnet/produces2, produces2/magneticField, magnet/hasA3, hasA3/magMoment, magMoment/thatDetermines, thatDetermines/forceMagnet, poles/alwaysIn, alwaysIn/pairs, poles/theyAre, theyAre/north, north/will3, will3/south, will3/repal2, north/will4, will4/south, will4/attract2, attract2/dueToA, dueToA/forceDist2, forceDist2/isA7, isA7/magForce, magneticField/makesAForce, magneticField/siUnit2, siUnit2/telsa, telsa/whichIs3, whichIs3/nCm, whichIs3/nAm, charges2/whenMovingProduces, createsForce/magneticField, magnet/canTravel, canTravel/conductors}
  \draw[ln] (\a) -- (\b);
\foreach \a/\b in {negative/doNotFlow, doNotFlow/insulators, negative/flowFreely, flowFreely/conductor, negative/will1, will1/positive, will1/repal1, negative/will2, will2/positive, will2/attract1, attract1/causesA, repal1/causesA, causesA/forceDistCharges, KE3/dependsOn2, dependsOn2/mass, mass/measures, measures/resistChange, mass/multipliedBy, multipliedBy/weight, velocity1/magnitudeIs, magnitudeIs/speed, speed/typeOf, typeOf/oneDMotion, speed/whichIs1, whichIs1/scaler, scaler/onlyHave, onlyHave/magnitude, weight/inAverage, inAverage/centerGravity, centerGravity/relatedTo4, velocity1/isA4, vector2/has4, has4/dirction, has4/magnitude, KE3/contributesTo4, contributesTo4/totalE2, displOT/isTheChange, isTheChange/velocity1, displOT/changeInPos, changeInPos/displacement1, force1/isInvolved, isInvolved/newton3laws, newton3laws/first, newton3laws/second, newton3laws/third, third/forcesAct, accProp/relatesTo7, momentum2/thatChanges, momentum2/isA6, momentum2/follows2, follows2/consMom2, momentum2/isApplied, isApplied/linearMotion2, circularMotion1/is5, angularMom1/follows3, momentum2/involves2, inelastic/canBe4, perfectlyInelastic/meaning2, inelastic/whenTwo1, elastic/whenTwo2, fromPulling/force1, force1/isA1, force1/resists, friction/twoTypes, twoTypes/kineticF, staticF/hasA1, staticF/keepsObj, kineticF/keepsObj, keepsObj/moving, kineticF/hasA2, hasA2/coefKin, force1/canBe1, canBe1/conservative1, force1/twoTypes2, twoTypes2/atDistance, contact2/suchAs, atDistance/viaA, force1/siUnitIs, siUnitIs/newtons, newtons/breaksDown, breaksDown/kgms2, force1/acts, acts/onObject, force1/shownPic, shownPic/fbd, fbd/shows, shows/allForces}
  \draw[ln] (\a) -- (\b);
\foreach \a/\b in {whichCauses/accC, called/gravF, has1/forceDist, equation/peEq, follows1/keplers, type2/gravPE, type1/elasticPE, contrib1/hooke, whenRel/KE1, obeys1/conservE1, atRestIs/potE, obeys3/consLaws, oneIs1/consMom1, oneIs2/conservE1, oneIs3/consAngMom, isAbility/work, relatesTo1/work, relatesTo1/workEnergy, obeys2/consLaws, isDoneWhen/force1, transferedBy/heat, isAverage/KE3, unchanged/thermalEquil, measuredIn3/kelvin, canCauseA/phaseChange, is1/heatEnergy, insideSys/internalE, isBetween/thermalContact, canBeDesc/KE2, by1/waves, by3/contact1, produces/work2, relatesTo3/consE2, states1/thirdLaw, whichAre/gas, whichAre/liquid, whenHeated/liquid, vaporization/boiling, withLowDensity/idealGases, canBe2/staticCharges, involves/charges1, measuredIn4/coulombs, fromChange/direction, isCauseBy/force2, isA5/vector3, putsObjects/freeFall, notIm/acceleration1, thatHas/twoD, is4/changeInVel, has6/xyComp, usesAngular/radian, has7/angularMom2, withConstant/centripetalAcc, onlyIf/centripetalForce, is6/conservative2, causeBy/force4, siUnit3/newtonMeter, canBeApply/magEnergy1, is3/howMany, has2/elecPotE, inA2/electricField, measuredBy/capacitance, thatIsSame/equipotential, relatedTo5/superposition, isA2/conservForce, yeilds/electricalForce, thatFollows/forceDistCharges, similarTo/lawGrav, governs/staticCharges, fromThe/staticCharges, flowsIn/conventional, beingInhibited/electricCurrent, howStrongly/resistivity, constantOver/olms, are2/loopRule, whichIsA/voltageSource, isA3/emf, inAccordance/faraday, isThe/voltageSource, whenCharging/magnet, causes1/magEnergy2, hasTwo/poles, theyAre/south, makesAForce/poles, whenMovingProduces/magneticField, createsForce/charges2, createsForce/magForce, relatedTo4/centerMass, isA4/vector2, first/inertia, first/objectMotion, second/accProp, relatesTo7/momentum2, thatChanges/impulse, isA6/vector4, isApplied/circularMotion1, is5/angularMom1, follows3/consAngLaw, involves2/inelastic, involves2/elastic, involves2/glancing, canBe4/perfectlyInelastic, meaning2/twoObjects, whenTwo1/momConserved, whenTwo2/bothConserved, fromPulling/tension, isA1/vector1, resists/friction, twoTypes/staticF, hasA1/coefStatic, keepsObj/fromMoving, canBe1/nonCons, twoTypes2/contact2, suchAs/springForce, viaA/feild, dependsOn2/velocity1}
  \draw[ar] (\a) -- (\b);
\end{pgfonlayer}
\end{tikzpicture}
\end{document}
